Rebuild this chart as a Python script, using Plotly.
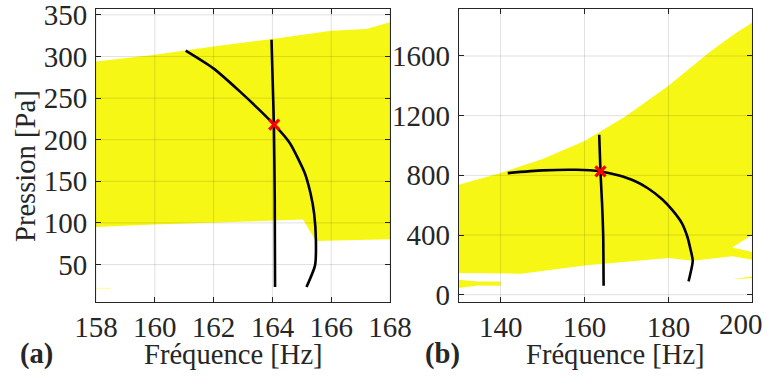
import plotly.graph_objects as go

W, H = 767, 381

# ---------------- Panel (a) data ----------------
a_up_f = [158, 160, 162, 164, 166, 167.2, 168]
a_up_p = [294, 302, 312, 321, 331, 333, 341]
a_lo_f = [168, 165.48, 165.04, 160, 158]
a_lo_p = [80.4, 78.4, 104, 98, 95]
a_sliver_f = [158.0, 158.5, 158.5, 158.0]
a_sliver_p = [20.3, 20.6, 22.0, 22.0]
a_c1_f = [163.97, 164.01, 164.05, 164.08, 164.09]
a_c1_p = [320, 270, 218, 128, 23]
a_c2_f = [161.05, 161.98, 162.89, 164.06, 164.59, 165.10, 165.30, 165.42, 165.48, 165.45, 165.16]
a_c2_p = [307, 286, 258, 218, 196, 160, 135, 111, 79, 49, 23]
a_pt_f = [164.06]
a_pt_p = [218]
a_xticks = [158, 160, 162, 164, 166, 168]
a_yticks = [50, 100, 150, 200, 250, 300, 350]

# ---------------- Panel (b) data ----------------
b_up_f = [130, 140, 150, 160, 170, 180, 190, 195.5, 200]
b_up_p = [737, 815, 910, 1030, 1200, 1400, 1630, 1742, 1824]
b_right_f = [200, 195.2, 200, 200]
b_right_p = [402, 317, 286, 234]
b_lo_f = [195.2, 185.8, 180, 160, 144.9, 130]
b_lo_p = [258, 228, 246, 196, 141, 145]
b_strip_f = [130, 134.5, 140, 140, 134.5, 130]
b_strip_p = [100, 88, 89, 60, 62, 45]
b_sliver_f = [195.2, 200, 200]
b_sliver_p = [105, 122, 110]
b_c1_f = [163.5, 163.8, 164.2, 164.45, 164.55]
b_c1_p = [1072, 826, 600, 400, 60]
b_c2_f = [141.7, 150, 158, 163.8, 168, 171.7, 175, 178.5, 181, 183.2, 184.5, 185.3, 185.8, 184.8]
b_c2_p = [815, 833, 837, 826, 800, 765, 715, 640, 565, 480, 390, 300, 228, 89]
b_pt_f = [163.8]
b_pt_p = [826]
b_xticks = [140, 160, 180, 200]
b_xticktext = ["140", "160", "180", ""]   # last label drawn shifted inside the figure (below)
b_last_label = "200"
b_yticks = [0, 400, 800, 1200, 1600]

YELLOW = "rgb(247,247,22)"
AXC = "#262626"
FONT = "Liberation Serif, Times New Roman, Times, serif"
TICK_SIZE = 29
LAB_SIZE = 28.6

fig = go.Figure()

def poly(fx, py, xa, ya, color=YELLOW):
    fig.add_trace(go.Scatter(x=fx + [fx[0]], y=py + [py[0]], xaxis=xa, yaxis=ya,
                             mode="lines", fill="toself", fillcolor=color,
                             line=dict(width=0, color=color), hoverinfo="skip",
                             showlegend=False))

def curve(fx, py, xa, ya):
    fig.add_trace(go.Scatter(x=fx, y=py, xaxis=xa, yaxis=ya, mode="lines",
                             line=dict(color="black", width=2.6, shape="spline", smoothing=0.6),
                             showlegend=False, hoverinfo="skip"))

def mark(fx, py, xa, ya):
    fig.add_trace(go.Scatter(x=fx, y=py, xaxis=xa, yaxis=ya, mode="markers",
                             marker=dict(symbol="x-thin", size=10, color="red",
                                         line=dict(color="red", width=3.2)),
                             showlegend=False, hoverinfo="skip"))

# panel a
poly(a_up_f + a_lo_f, a_up_p + a_lo_p, "x", "y")
poly(a_sliver_f, a_sliver_p, "x", "y", "rgba(247,247,22,0.35)")
curve(a_c1_f, a_c1_p, "x", "y")
curve(a_c2_f, a_c2_p, "x", "y")
mark(a_pt_f, a_pt_p, "x", "y")

# panel b
poly(b_up_f + b_right_f + b_lo_f, b_up_p + b_right_p + b_lo_p, "x2", "y2")
poly(b_strip_f, b_strip_p, "x2", "y2")
poly(b_sliver_f, b_sliver_p, "x2", "y2")
curve(b_c1_f, b_c1_p, "x2", "y2")
curve(b_c2_f, b_c2_p, "x2", "y2")
mark(b_pt_f, b_pt_p, "x2", "y2")

def xd(p0, p1):
    return [p0 / W, p1 / W]

ydom = [1 - 302 / H, 1 - 9 / H]
axcommon = dict(showgrid=False, zeroline=False, showline=True, linecolor=AXC, linewidth=1,
                mirror="ticks", ticks="inside", ticklen=5, tickwidth=1, tickcolor=AXC,
                automargin=False, ticklabeloverflow="allow",
                tickfont=dict(family=FONT, size=TICK_SIZE, color=AXC))

fig.update_layout(
    width=W, height=H, margin=dict(l=0, r=0, t=0, b=0, pad=0, autoexpand=False),
    paper_bgcolor="white", plot_bgcolor="white", showlegend=False,
    font=dict(family=FONT, color=AXC),
    xaxis=dict(domain=xd(96, 390), range=[158, 168], tickvals=a_xticks,
               anchor="y", ticklabelstandoff=-1, **axcommon),
    yaxis=dict(domain=ydom, range=[5, 357], tickvals=a_yticks, anchor="x",
               ticklabelstandoff=2, **axcommon),
    xaxis2=dict(domain=xd(458.7, 752.3), range=[130, 200], tickvals=b_xticks,
                ticktext=b_xticktext, anchor="y2", ticklabelstandoff=-1, **axcommon),
    yaxis2=dict(domain=ydom, range=[-49, 1915], tickvals=b_yticks, anchor="x2",
                ticklabelstandoff=2, **axcommon),
)

# grid lines drawn above the filled areas (as in the reference)
GRID = "rgba(0,0,0,0.12)"
shapes = []
for xa, ya, xt, yt in (("x", "y", a_xticks, a_yticks), ("x2", "y2", b_xticks, b_yticks)):
    for v in xt:
        shapes.append(dict(type="line", xref=xa, yref=ya + " domain", x0=v, x1=v, y0=0, y1=1,
                           line=dict(color=GRID, width=1), layer="above"))
    for v in yt:
        shapes.append(dict(type="line", xref=xa + " domain", yref=ya, x0=0, x1=1, y0=v, y1=v,
                           line=dict(color=GRID, width=1), layer="above"))
fig.update_layout(shapes=shapes)

def ann(text, px, py, size=LAB_SIZE, bold=False, angle=0):
    fig.add_annotation(text=("<b>%s</b>" % text) if bold else text,
                       x=px / W, y=1 - py / H, xref="paper", yref="paper",
                       xanchor="center", yanchor="middle", showarrow=False, textangle=angle,
                       font=dict(family=FONT, size=size, color=AXC))

ann("Fréquence [Hz]", 233, 354)
ann("Fréquence [Hz]", 615.5, 354)
ann("Pression [Pa]", 25, 166, angle=-90)
ann("(a)", 36, 354, bold=True)
ann("(b)", 442, 354, bold=True)
ann(b_last_label, 741, 324, size=TICK_SIZE)

fig.write_html("out.html", config={"displayModeBar": False},
               post_script="document.body.style.margin='0px';")
